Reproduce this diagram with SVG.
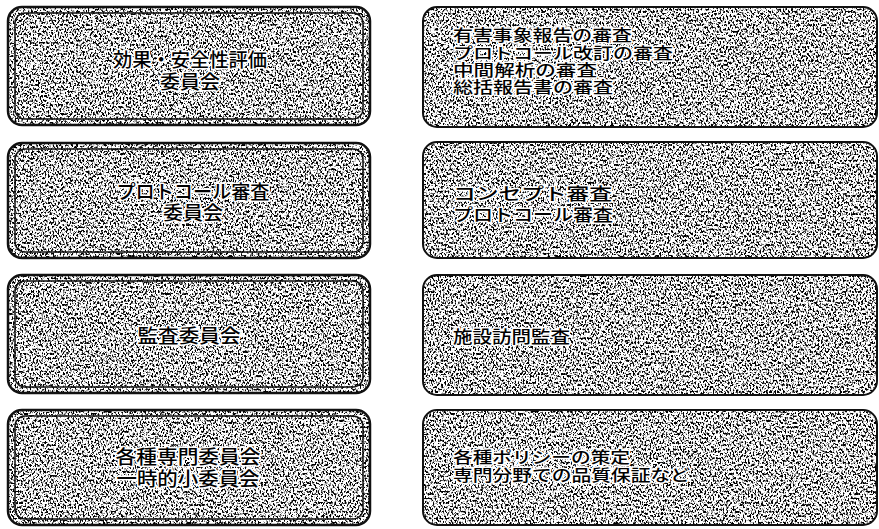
<svg xmlns="http://www.w3.org/2000/svg" width="879" height="529" viewBox="0 0 879 529">
<defs>
<filter id="speck" x="0" y="0" width="100%" height="100%" color-interpolation-filters="sRGB">
<feTurbulence type="fractalNoise" baseFrequency="0.6 0.45" numOctaves="2" seed="7" result="t"/>
<feColorMatrix in="t" type="matrix" values="0 0 0 0 0  0 0 0 0 0  0 0 0 0 0  -7 0 0 0 3.6" result="m"/>
<feComposite in="m" in2="SourceAlpha" operator="in"/>
</filter>
</defs>
<style>
.bg{fill:#ffffff;}
.nz{fill:#000;filter:url(#speck);}
.edge{fill:none;stroke:#111;stroke-width:2.5;}
.edge2{fill:none;stroke:#111;stroke-width:1.5;}
.redge{fill:none;stroke:#111;stroke-width:2;}
text{font-family:"Liberation Sans","Noto Sans CJK JP","Noto Sans CJK SC",sans-serif;font-weight:500;fill:#000;stroke:#fff;stroke-width:3;paint-order:stroke;stroke-linejoin:round;}
.l{font-size:19px;text-anchor:middle;}
.r{font-size:16px;}
.r2{font-size:17px;}
</style>
<rect width="879" height="529" fill="#fff"/>
<g id="connectors"></g>

<g id="left1">
<rect class="bg" x="8" y="7" width="362" height="118" rx="14"/>
<rect class="nz" x="8" y="7" width="362" height="118" rx="14"/>
<rect class="edge" x="8" y="7" width="362" height="118" rx="14"/>
<rect class="edge2" x="15" y="13" width="348" height="106" rx="10"/>
<text class="l" x="190" y="67" textLength="154" lengthAdjust="spacingAndGlyphs">効果・安全性評価</text>
<text class="l" x="190" y="89" textLength="60" lengthAdjust="spacingAndGlyphs">委員会</text>
</g>

<g id="left2">
<rect class="bg" x="8" y="143" width="362" height="115" rx="14"/>
<rect class="nz" x="8" y="143" width="362" height="115" rx="14"/>
<rect class="edge" x="8" y="143" width="362" height="115" rx="14"/>
<rect class="edge2" x="15" y="149" width="348" height="103" rx="10"/>
<text class="l" x="193" y="199" textLength="153" lengthAdjust="spacingAndGlyphs">プロトコール審査</text>
<text class="l" x="193" y="220" textLength="60" lengthAdjust="spacingAndGlyphs">委員会</text>
</g>

<g id="left3">
<rect class="bg" x="8" y="275" width="362" height="118" rx="14"/>
<rect class="nz" x="8" y="275" width="362" height="118" rx="14"/>
<rect class="edge" x="8" y="275" width="362" height="118" rx="14"/>
<rect class="edge2" x="15" y="281" width="348" height="106" rx="10"/>
<text class="l" x="189" y="343" textLength="103" lengthAdjust="spacingAndGlyphs">監査委員会</text>
</g>

<g id="left4">
<rect class="bg" x="8" y="410" width="362" height="115" rx="14"/>
<rect class="nz" x="8" y="410" width="362" height="115" rx="14"/>
<rect class="edge" x="8" y="410" width="362" height="115" rx="14"/>
<rect class="edge2" x="15" y="416" width="348" height="103" rx="10"/>
<text class="l" x="188" y="464" textLength="145" lengthAdjust="spacingAndGlyphs">各種専門委員会</text>
<text class="l" x="188" y="486" textLength="143" lengthAdjust="spacingAndGlyphs">一時的小委員会</text>
</g>

<g id="right1">
<rect class="bg" x="423" y="7" width="454" height="120" rx="14"/>
<rect class="nz" x="423" y="7" width="454" height="120" rx="14"/>
<rect class="redge" x="423" y="7" width="454" height="120" rx="14"/>
<text class="r" x="453" y="41" textLength="179" lengthAdjust="spacingAndGlyphs">有害事象報告の審査</text>
<text class="r" x="453" y="59" textLength="220" lengthAdjust="spacingAndGlyphs">プロトコール改訂の審査</text>
<text class="r" x="453" y="76" textLength="144" lengthAdjust="spacingAndGlyphs">中間解析の審査</text>
<text class="r" x="453" y="93" textLength="160" lengthAdjust="spacingAndGlyphs">総括報告書の審査</text>
</g>

<g id="right2">
<rect class="bg" x="423" y="142" width="454" height="116" rx="14"/>
<rect class="nz" x="423" y="142" width="454" height="116" rx="14"/>
<rect class="redge" x="423" y="142" width="454" height="116" rx="14"/>
<text class="r2" x="453" y="200" textLength="159" lengthAdjust="spacingAndGlyphs">コンセプト審査</text>
<text class="r2" x="453" y="221" textLength="160" lengthAdjust="spacingAndGlyphs">プロトコール審査</text>
</g>

<g id="right3">
<rect class="bg" x="423" y="275" width="454" height="120" rx="14"/>
<rect class="nz" x="423" y="275" width="454" height="120" rx="14"/>
<rect class="redge" x="423" y="275" width="454" height="120" rx="14"/>
<text class="r2" x="453" y="343" textLength="117" lengthAdjust="spacingAndGlyphs">施設訪問監査</text>
</g>

<g id="right4">
<rect class="bg" x="423" y="410" width="454" height="115" rx="14"/>
<rect class="nz" x="423" y="410" width="454" height="115" rx="14"/>
<rect class="redge" x="423" y="410" width="454" height="115" rx="14"/>
<text class="r" x="453" y="463" textLength="177" lengthAdjust="spacingAndGlyphs">各種ポリシーの策定</text>
<text class="r" x="453" y="481" textLength="237" lengthAdjust="spacingAndGlyphs">専門分野での品質保証など</text>
</g>
</svg>
